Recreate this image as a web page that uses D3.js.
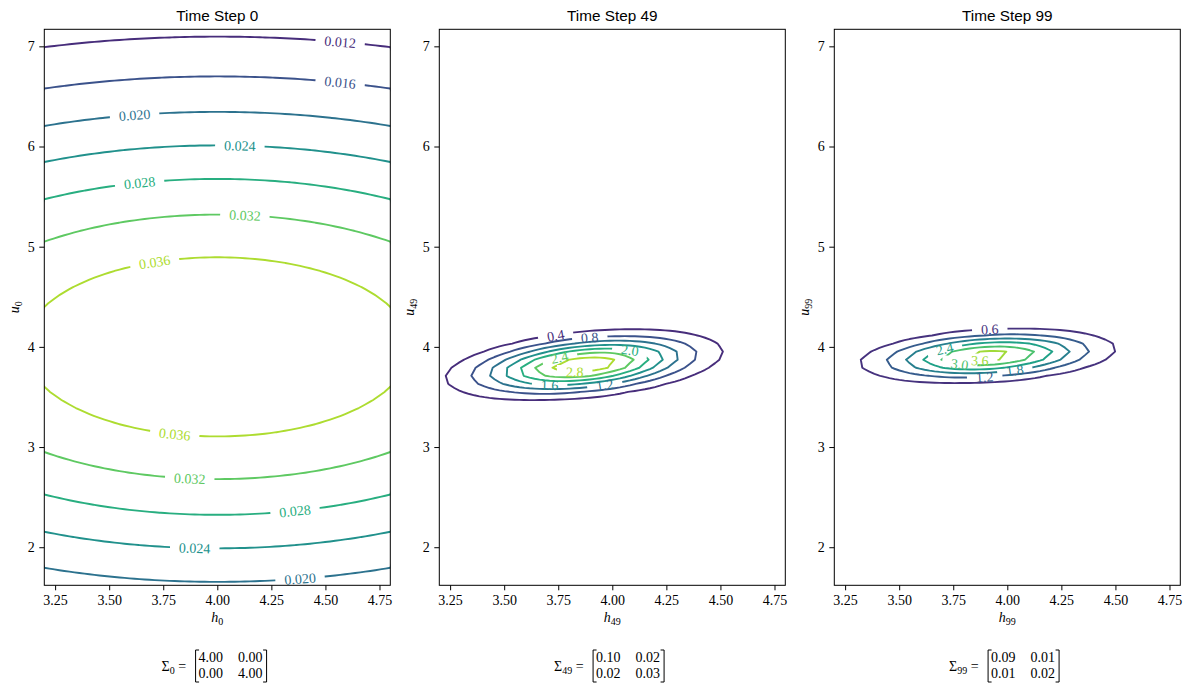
<!DOCTYPE html>
<html lang="en">
<head>
<meta charset="UTF-8">
<title>Time steps</title>
<style>
  body { margin: 0; background: #fff; }
  text { font-family: "Liberation Serif", "DejaVu Serif", serif; }
  .title { font-family: "Liberation Sans", "DejaVu Sans", sans-serif; }
</style>
</head>
<body>
<svg id="chart" width="1189" height="692"></svg>
<script src="https://cdn.jsdelivr.net/npm/d3@7"></script>
<script>
// time steps shown in the three panels
var steps = [0, 49, 99];
// mean (h, u) of the gaussian in each panel
var means = [[4.00, 4.00], [3.87, 3.82], [3.91, 3.91]];
// covariance of each panel (printed rounded to two decimals)
var covs = [
  [[4.00, 0.00], [0.00, 4.00]],
  [[0.10, 0.02], [0.02, 0.03]],
  [[0.094, 0.011], [0.011, 0.0194]]
];
var levels = [
  [0.012, 0.016, 0.020, 0.024, 0.028, 0.032, 0.036],
  [0.4, 0.8, 1.2, 1.6, 2.0, 2.4, 2.8],
  [0.6, 1.2, 1.8, 2.4, 3.0, 3.6]
];
var levelFmt = [".3f", ".1f", ".1f"];
var xTicks = [3.25, 3.50, 3.75, 4.00, 4.25, 4.50, 4.75];
var yTicks = [2, 3, 4, 5, 6, 7];
var xRange = [3.2, 4.8];
var yRange = [1.62, 7.17];
// inline contour labels: [level, h, u]
var labels0 = [
  [0.012, 4.57, 7.05], [0.016, 4.57, 6.66], [0.020, 3.62, 6.33], [0.024, 4.10, 6.02],
  [0.028, 3.64, 5.65], [0.032, 4.12, 5.33], [0.036, 3.72, 4.86], [0.036, 3.80, 3.14],
  [0.032, 3.88, 2.69], [0.028, 4.36, 2.37], [0.024, 3.90, 2.00], [0.020, 4.38, 1.71]
];
var labels49 = [
  [0.4, 3.74, 4.12], [0.8, 3.90, 4.10], [2.0, 4.08, 3.96], [2.4, 3.76, 3.87],
  [2.8, 3.83, 3.77], [1.6, 3.72, 3.60], [1.2, 3.96, 3.60]
];
var labels99 = [
  [0.6, 3.93, 4.15], [2.4, 3.70, 3.97], [3.0, 3.78, 3.81], [3.6, 3.87, 3.83],
  [1.2, 3.90, 3.72], [1.8, 4.04, 3.77]
];
var labelSets = [labels0, labels49, labels99];

var W = 1189, H = 692;
var panelLeft = [44.3, 439.3, 834.3];
var pw = 346, plotTop = 29.3, ph = 556;
var n = 70;   // samples per side of the density grid

var svg = d3.select("#chart");
svg.append("rect").attr("width", W).attr("height", H).attr("fill", "#fff");
var defs = svg.append("defs");

function density(mu, S, x, y) {
  var a = S[0][0], b = S[0][1], d = S[1][1];
  var det = a * d - b * b;
  var dx = x - mu[0], dy = y - mu[1];
  var q = (d * dx * dx - 2 * b * dx * dy + a * dy * dy) / det;
  return Math.exp(-q / 2) / (2 * Math.PI * Math.sqrt(det));
}

steps.forEach(function(step, k) {
  var left = panelLeft[k];
  var cx = left + pw / 2;
  var x = d3.scaleLinear().domain(xRange).range([left, left + pw]);
  var y = d3.scaleLinear().domain(yRange).range([plotTop + ph, plotTop]);
  var g = svg.append("g");

  // grid of density values
  var gx = (xRange[1] - xRange[0]) / (n - 1), gy = (yRange[1] - yRange[0]) / (n - 1);
  var values = new Array(n * n);
  for (var j = 0; j < n; j++)
    for (var i = 0; i < n; i++)
      values[j * n + i] = density(means[k], covs[k], xRange[0] + i * gx, yRange[0] + j * gy);

  var lv = levels[k];
  var step0 = lv[1] - lv[0];
  var color = d3.scaleSequential(d3.interpolateViridis)
    .domain([lv[0] - step0, lv[lv.length - 1] + step0]);

  var contours = d3.contours().size([n, n]).thresholds(lv)(values);
  var toPx = function(p) {
    return [x(xRange[0] + (p[0] - 0.5) * gx), y(yRange[0] + (p[1] - 0.5) * gy)];
  };
  var path = d3.geoPath(d3.geoTransform({
    point: function(px, py) { var q = toPx([px, py]); this.stream.point(q[0], q[1]); }
  }));

  defs.append("clipPath").attr("id", "clip" + k)
    .append("rect").attr("x", left).attr("y", plotTop).attr("width", pw).attr("height", ph);

  var plot = g.append("g").attr("clip-path", "url(#clip" + k + ")");
  var fmt = d3.format(levelFmt[k]);

  contours.forEach(function(c, li) {
    // ring vertices in pixels, for label placement
    var rings = [];
    c.coordinates.forEach(function(poly) {
      poly.forEach(function(ring) { rings.push(ring.map(toPx)); });
    });
    var col = color(c.value);
    var maskId = "m" + k + "_" + li;
    var mask = defs.append("mask").attr("id", maskId).attr("maskUnits", "userSpaceOnUse")
      .attr("x", 0).attr("y", 0).attr("width", W).attr("height", H);
    mask.append("rect").attr("width", W).attr("height", H).attr("fill", "#fff");

    plot.append("path").attr("d", path(c)).attr("fill", "none")
      .attr("stroke", col).attr("stroke-width", 1.9)
      .attr("stroke-linejoin", "round")
      .attr("mask", "url(#" + maskId + ")");

    labelSets[k].filter(function(l) { return Math.abs(l[0] - c.value) < 1e-9; })
      .forEach(function(l) {
        var sx = x(l[1]), sy = y(l[2]);
        var best = null, bd = Infinity;
        rings.forEach(function(r) {
          r.forEach(function(p, pi) {
            var dd = (p[0] - sx) * (p[0] - sx) + (p[1] - sy) * (p[1] - sy);
            if (dd < bd) { bd = dd; best = [r, pi]; }
          });
        });
        var ang = 0, px = sx, py = sy;
        if (best) {
          var r = best[0], pi = best[1], m = r.length;
          var a = r[(pi - 1 + m) % m], b = r[(pi + 1) % m];
          ang = Math.atan2(b[1] - a[1], b[0] - a[0]) * 180 / Math.PI;
          if (ang > 90) ang -= 180;
          if (ang < -90) ang += 180;
          if (Math.sqrt(bd) < 6) { px = r[pi][0]; py = r[pi][1]; }
        }
        var t = g.append("text")
          .attr("transform", "translate(" + px + "," + py + ") rotate(" + ang + ")")
          .attr("text-anchor", "middle").attr("dy", "0.35em")
          .attr("font-size", 14).attr("fill", col)
          .text(fmt(c.value));
        var tw = t.node().getComputedTextLength() + 18;
        mask.append("rect")
          .attr("transform", "translate(" + px + "," + py + ") rotate(" + ang + ")")
          .attr("x", -tw / 2).attr("y", -7).attr("width", tw).attr("height", 14)
          .attr("fill", "#000");
      });
  });

  // frame and axes
  g.append("rect").attr("x", left).attr("y", plotTop).attr("width", pw).attr("height", ph)
    .attr("fill", "none").attr("stroke", "#000").attr("stroke-width", 1);

  var xa = g.append("g").attr("transform", "translate(0," + (plotTop + ph) + ")")
    .call(d3.axisBottom(x).tickValues(xTicks).tickFormat(d3.format(".2f"))
      .tickSize(5).tickPadding(4.5));
  var ya = g.append("g").attr("transform", "translate(" + left + ",0)")
    .call(d3.axisLeft(y).tickValues(yTicks).tickFormat(d3.format("d"))
      .tickSize(5).tickPadding(4.5));
  [xa, ya].forEach(function(a) {
    a.select(".domain").remove();
    a.selectAll("text").attr("font-size", 14).attr("fill", "#000")
      .attr("font-family", '"Liberation Serif", "DejaVu Serif", serif');
    a.selectAll("line").attr("stroke", "#000");
  });

  // title
  g.append("text").attr("class", "title").attr("x", cx).attr("y", 21)
    .attr("text-anchor", "middle").attr("font-size", 15.3).text("Time Step " + step);

  // axis labels
  var xl = g.append("text").attr("x", cx).attr("y", 621.5).attr("text-anchor", "middle")
    .attr("font-size", 14);
  xl.append("tspan").attr("font-style", "italic").text("h");
  xl.append("tspan").attr("font-size", 10).attr("dy", 3).text(step);

  var yl = g.append("text")
    .attr("transform", "translate(" + (left - 25) + "," + (plotTop + ph / 2) + ") rotate(-90)")
    .attr("text-anchor", "middle").attr("font-size", 14);
  yl.append("tspan").attr("font-style", "italic").text("u");
  yl.append("tspan").attr("font-size", 10).attr("dy", 3).text(step);

  // covariance matrix under the panel
  var sg = g.append("g");
  var lhs = sg.append("text").attr("x", 0).attr("y", 670.5).attr("font-size", 14);
  lhs.append("tspan").text("\u03A3");
  lhs.append("tspan").attr("font-size", 10).attr("dy", 3).text(step);
  lhs.append("tspan").attr("dy", -3).text(" =");
  var L = lhs.node().getComputedTextLength();
  var bx = L + 9, bw = 72;
  var bt = 650, bb = 682;
  sg.append("path").attr("fill", "none").attr("stroke", "#000").attr("stroke-width", 1)
    .attr("d", "M" + (bx + 4) + "," + bt + "H" + (bx + 0.5) + "V" + bb + "H" + (bx + 4) +
      "M" + (bx + bw - 4) + "," + bt + "H" + (bx + bw - 0.5) + "V" + bb + "H" + (bx + bw - 4));
  var f2 = d3.format(".2f");
  covs[k].forEach(function(row, ri) {
    row.forEach(function(v, ci) {
      sg.append("text").attr("x", bx + 3.5 + ci * 39.5).attr("y", 662 + ri * 16)
        .attr("font-size", 14).text(f2(v));
    });
  });
  var total = bx + bw;
  sg.attr("transform", "translate(" + (cx - 3 - total / 2) + ",0)");
});
</script>
</body>
</html>
